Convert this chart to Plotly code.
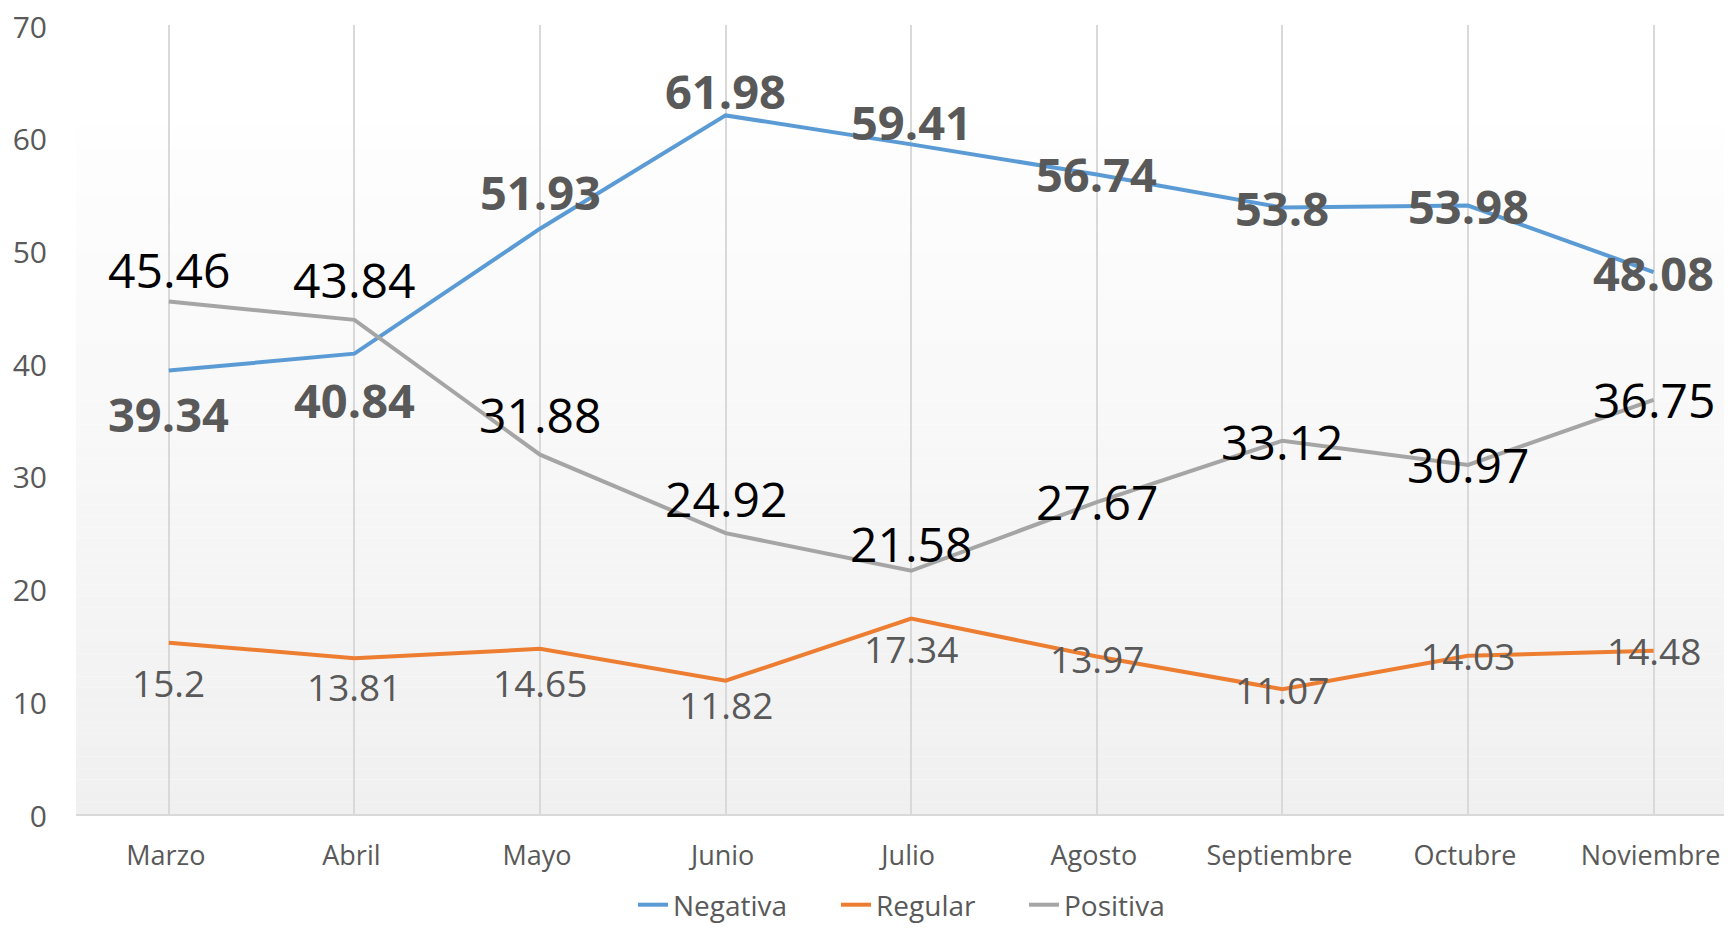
import plotly.graph_objects as go

months = ["Marzo", "Abril", "Mayo", "Junio", "Julio", "Agosto", "Septiembre", "Octubre", "Noviembre"]
negativa = [39.34, 40.84, 51.93, 61.98, 59.41, 56.74, 53.8, 53.98, 48.08]
regular = [15.2, 13.81, 14.65, 11.82, 17.34, 13.97, 11.07, 14.03, 14.48]
positiva = [45.46, 43.84, 31.88, 24.92, 21.58, 27.67, 33.12, 30.97, 36.75]

# label vertical offsets in px (positive = below the point), style only
off_neg = [45, 48, -35, -22, -20, 2, 2, 2, 3]
off_reg = [42, 30, 36, 26, 32, 4, 2, 2, 2]
off_pos = [-30, -38, -38, -33, -25, 1, 3, 2, 2]
LIFT = 2

FONT = "Open Sans, sans-serif"
BODY = 8  # default page margin of the HTML body (each side)
W, H = 1732 - 2 * BODY, 932 - 2 * BODY
ML, MR, MT = 76 - BODY, 0, 25 - BODY
MB = H - (814 - BODY)

fig = go.Figure()
series = [
    ("Negativa", negativa, "#5B9BD5", 158),
    ("Regular", regular, "#ED7D31", 143),
    ("Positiva", positiva, "#A5A5A5", 143),
]
for name, vals, col, lw in series:
    fig.add_trace(go.Scatter(x=months, y=vals, mode="lines", name=name,
                             line=dict(color=col, width=4), legendwidth=lw))

ann = []
def add_labels(vals, offs, color, bold, size):
    for m, v, o in zip(months, vals, offs):
        txt = str(v)
        if bold:
            txt = "<b>" + txt + "</b>"
        ann.append(dict(x=m, y=v, xref="x", yref="y", text=txt, showarrow=False,
                        xanchor="center", yanchor="middle", yshift=-o + LIFT,
                        font=dict(family=FONT, size=size, color=color)))

add_labels(negativa, off_neg, "#595959", True, 47)
add_labels(positiva, off_pos, "#000000", False, 48)
add_labels(regular, off_reg, "#595959", False, 37)

# gradient background stripes (paper coords)
plot_h = H - MT - MB
top_px = 126 - BODY
y_top = (H - MB - top_px) / plot_h
N = 60
shapes = []
c0 = (254, 254, 254)
c1 = (240, 240, 240)
for i in range(N):
    ya = y_top * (1 - i / N)
    yb = y_top * (1 - (i + 1) / N)
    t = (i + 0.5) / N
    c = tuple(round(c0[k] + (c1[k] - c0[k]) * t) for k in range(3))
    shapes.append(dict(type="rect", xref="paper", yref="paper", x0=0, x1=1,
                       y0=yb, y1=ya, fillcolor="rgb(%d,%d,%d)" % c,
                       line=dict(width=0), layer="below"))

plot_w = W - ML - MR
unit = 185.6
xmax = -0.5 + plot_w / unit

fig.update_layout(
    width=W, height=H,
    margin=dict(l=ML, r=MR, t=MT, b=MB, autoexpand=False),
    paper_bgcolor="white", plot_bgcolor="white",
    font=dict(family=FONT, color="#595959"),
    shapes=shapes,
    annotations=ann,
    showlegend=True,
    legend=dict(orientation="h", xref="container", x=(633 - BODY) / W, xanchor="left",
                yref="container", y=(H - 897) / H, yanchor="middle",
                font=dict(size=28, color="#595959"),
                bgcolor="rgba(0,0,0,0)", tracegroupgap=0),
    xaxis=dict(type="category", range=[-0.5, xmax], showgrid=True, gridcolor="#D9D9D9",
               gridwidth=1.5, showline=True, linecolor="#D9D9D9", linewidth=2,
               ticks="", tickfont=dict(size=27, color="#595959"), ticklabelstandoff=17,
               ticklabelshift=-3,
               zeroline=False, automargin=False, ticklabeloverflow="allow"),
    yaxis=dict(range=[0, 70], dtick=10, tick0=0, showgrid=False, zeroline=False,
               showline=False, ticks="", tickfont=dict(size=30, color="#595959"),
               ticklabelstandoff=28, ticklabelshift=2,
               automargin=False, ticklabeloverflow="allow"),
)

fig.write_html("out.html")
